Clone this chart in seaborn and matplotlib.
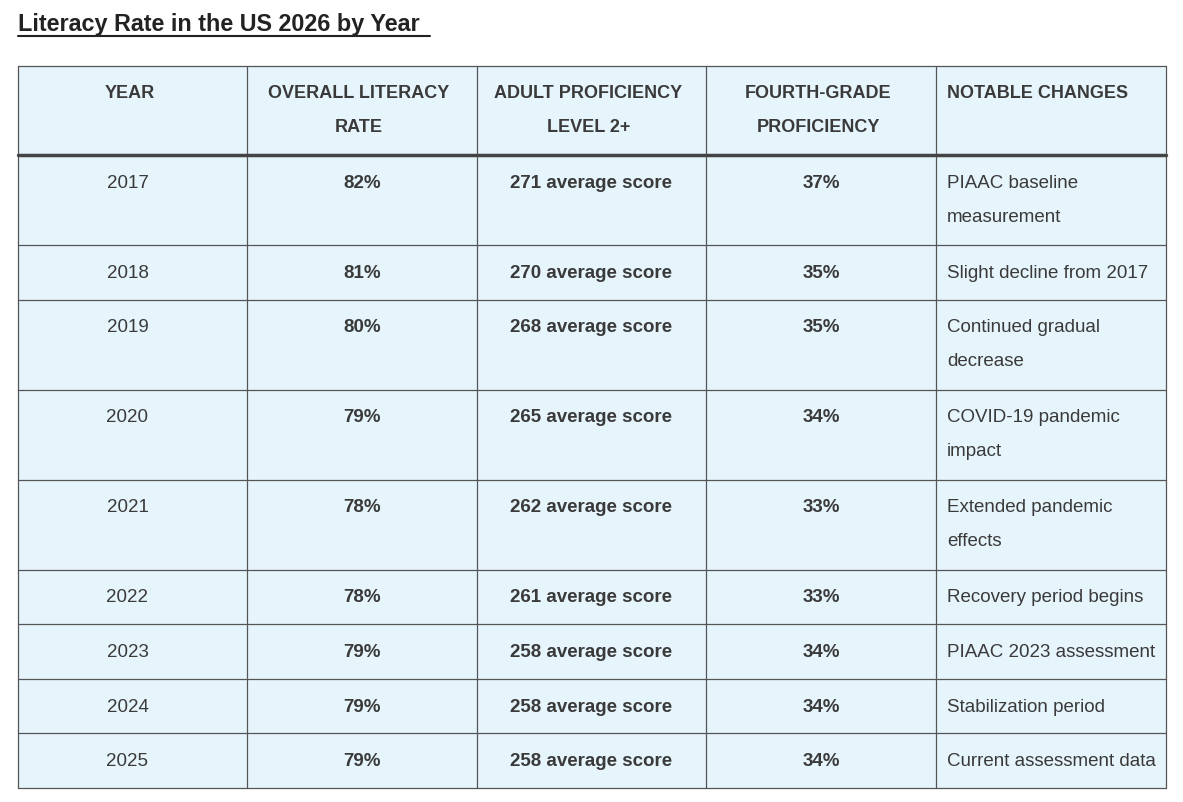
import matplotlib.pyplot as plt
import seaborn as sns
from matplotlib.patches import Rectangle

# ==============================
# 1. Table Data
# ==============================
headers = [["YEAR"], ["OVERALL LITERACY", "RATE"], ["ADULT PROFICIENCY", "LEVEL 2+"],
           ["FOURTH-GRADE", "PROFICIENCY"], ["NOTABLE CHANGES"]]
years = ["2017", "2018", "2019", "2020", "2021", "2022", "2023", "2024", "2025"]
literacy = ["82%", "81%", "80%", "79%", "78%", "78%", "79%", "79%", "79%"]
adult = ["271 average score", "270 average score", "268 average score", "265 average score",
         "262 average score", "261 average score", "258 average score", "258 average score",
         "258 average score"]
fourth = ["37%", "35%", "35%", "34%", "33%", "33%", "34%", "34%", "34%"]
notes = [["PIAAC baseline", "measurement"], ["Slight decline from 2017"],
         ["Continued gradual", "decrease"], ["COVID-19 pandemic", "impact"],
         ["Extended pandemic", "effects"], ["Recovery period begins"],
         ["PIAAC 2023 assessment"], ["Stabilization period"], ["Current assessment data"]]

# ==============================
# 2. Layout
# ==============================
sns.set_style("white")
plt.rcParams['font.family'] = ['Liberation Sans', 'DejaVu Sans']

col_edges = [18, 247, 477, 706, 936, 1166]
header_h = 89
line_gap = 34
bg = "#e6f4fc"
edge = "#555555"
txt = "#3a3a3a"

fig = plt.figure(figsize=(11.83, 8.02), dpi=100)
ax = fig.add_axes([0, 0, 1, 1])
ax.set_xlim(0, 1183)
ax.set_ylim(802, 0)
ax.axis("off")

fig.text(18 / 1183, 1 - 24 / 802, "Literacy Rate in the US 2026 by Year", fontsize=16.8,
         fontweight="bold", color="#222222", va="center", ha="left")
ax.plot([18, 430], [36, 36], color="#222222", lw=1.5)

top = 66
# header
ax.add_patch(Rectangle((18, top), 1148, header_h, facecolor=bg, edgecolor="none"))
for c, lines in enumerate(headers):
    for k, s in enumerate(lines):
        if c == 4:
            ax.text(col_edges[c] + 11, top + 27 + k * line_gap, s, fontsize=13,
                    fontweight="bold", color=txt, ha="left", va="center")
        else:
            ax.text((col_edges[c] + col_edges[c + 1]) / 2 - 3, top + 27 + k * line_gap, s,
                    fontsize=13, fontweight="bold", color=txt, ha="center", va="center")
y = top + header_h
row_tops = [y]
for i in range(len(years)):
    h = 90 if len(notes[i]) > 1 else 54.5
    ax.add_patch(Rectangle((18, y), 1148, h, facecolor=bg, edgecolor="none"))
    cy = y + 28.5
    ax.text((col_edges[0] + col_edges[1]) / 2 - 5, cy, years[i], fontsize=13.5, color=txt,
            ha="center", va="center")
    for c, val in [(1, literacy[i]), (2, adult[i]), (3, fourth[i])]:
        ax.text((col_edges[c] + col_edges[c + 1]) / 2, cy, val, fontsize=13.5,
                fontweight="bold", color=txt, ha="center", va="center")
    for k, s in enumerate(notes[i]):
        ax.text(col_edges[4] + 11, cy + k * line_gap, s, fontsize=13.5, color=txt,
                ha="left", va="center")
    y += h
    row_tops.append(y)

# grid lines
for x in col_edges:
    ax.plot([x, x], [top, y], color=edge, lw=0.9)
ax.plot([18, 1166], [top, top], color=edge, lw=0.9)
ax.plot([18, 1166], [top + header_h, top + header_h], color="#444444", lw=2.5)
for r in row_tops[1:]:
    ax.plot([18, 1166], [r, r], color=edge, lw=0.9)

plt.savefig("out.png", dpi=100)
